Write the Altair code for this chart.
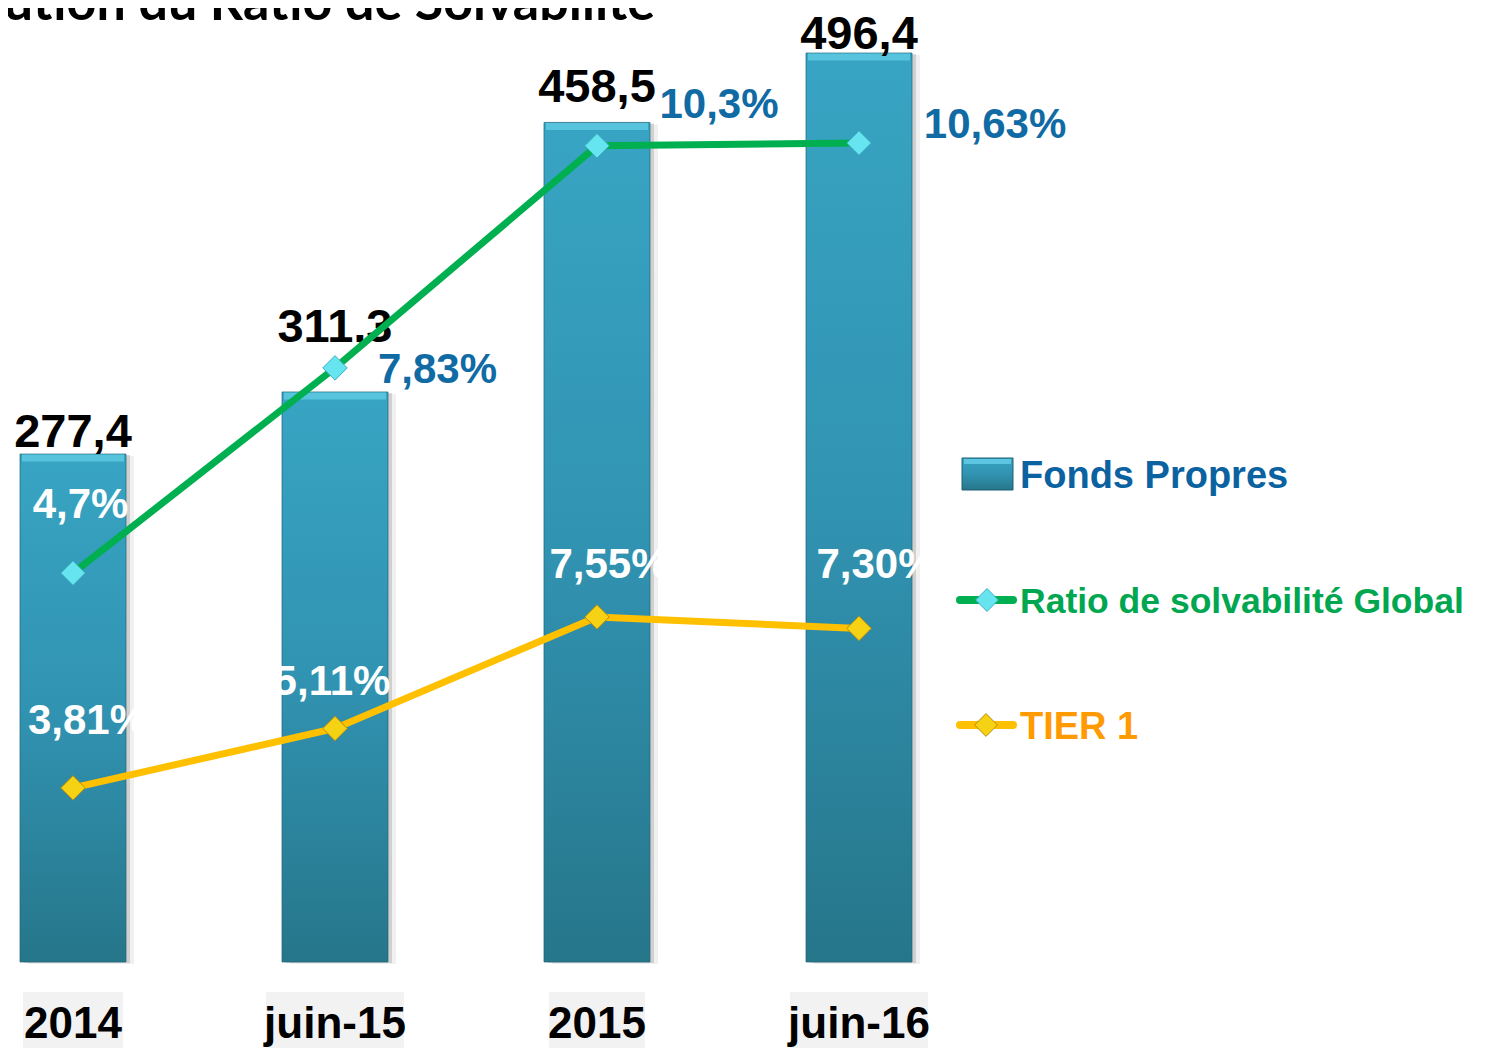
import altair as alt
import pandas as pd

# ---------------- data ----------------
categories = ["2014", "juin-15", "2015", "juin-16"]
fonds_propres = [277.4, 311.3, 458.5, 496.4]
fonds_labels = ["277,4", "311,3", "458,5", "496,4"]
# marker heights of the "Ratio de solvabilité Global" line, read on the % scale of the picture
ratio_global = [8.51, 13.0, 17.86, 17.92]
ratio_global_labels = ["4,7%", "7,83%", "10,3%", "10,63%"]
tier1 = [3.81, 5.11, 7.55, 7.30]
tier1_labels = ["3,81%", "5,11%", "7,55%", "7,30%"]
title_text = "Évolution du Ratio de Solvabilité"
legend_labels = ["Fonds Propres", "Ratio de solvabilité Global", "TIER 1"]

# ---------------- styling ----------------
BLUE_TXT = "#106aa4"
g_colors = ["white", BLUE_TXT, BLUE_TXT, BLUE_TXT]
g_dx = [7.5, 102.5, 122, 136]
g_dy = [-55, 15, -28, -5]
t_dx = [14.5, -3, 12, 17]
t_dy = [-54, -33, -39, -50]
b_dy = [-7, -50, -20, -4]
label_box_w = [100, 138, 96, 138]

df = pd.DataFrame({
    "cat": categories,
    "fp": fonds_propres,
    "fp_lbl": fonds_labels,
    "g": ratio_global,
    "g_lbl": ratio_global_labels,
    "t": tier1,
    "t_lbl": tier1_labels,
    "box_w": label_box_w,
})
one = pd.DataFrame({"k": [0]})

W, H = 1472, 1040
ZERO = 954  # pixel of value 0

xscale = alt.Scale(domain=categories, range=[-66, 982], paddingInner=0.5954, paddingOuter=0.2977)
xenc = alt.X("cat:N", sort=categories, title=None, scale=xscale, axis=None)
xaxis = alt.X("cat:N", sort=categories, title=None, scale=xscale,
              axis=alt.Axis(labels=False, domain=False, ticks=True, tickBand="extent",
                            tickColor="#eeeeee", tickSize=13, grid=False, title=None,
                            orient="top", offset=-ZERO))

def ybar(f):
    return alt.Y(f, scale=alt.Scale(domain=[0, 521], range=[ZERO, 0], nice=False, zero=True), axis=None)

def ypct(f):
    return alt.Y(f, scale=alt.Scale(domain=[0, 20.875], range=[ZERO, 0], nice=False, zero=True), axis=None)

bar_grad = alt.Gradient(
    gradient="linear",
    stops=[alt.GradientStop(color="#38a4c3", offset=0),
           alt.GradientStop(color="#3193b2", offset=0.5),
           alt.GradientStop(color="#26768a", offset=1)],
    x1=0, x2=0, y1=0, y2=1)

base = alt.Chart(df)

shadow2 = base.mark_bar(color="#808080", opacity=0.12, xOffset=8, yOffset=2).encode(x=xenc, y=ybar("fp:Q"))
shadow1 = base.mark_bar(color="#707070", opacity=0.25, xOffset=4, yOffset=1).encode(x=xenc, y=ybar("fp:Q"))
bars = base.mark_bar(color=bar_grad, stroke="#1f6478", strokeWidth=1, strokeOpacity=0.7).encode(
    x=xenc, y=ybar("fp:Q"))
bevel = base.mark_tick(color="#5cc6e0", thickness=7, size=102, yOffset=4, opacity=0.9).encode(
    x=xenc, y=ybar("fp:Q"))

layers = [shadow2, shadow1, bars, bevel]

# value labels above the bars
for i in range(len(categories)):
    layers.append(
        alt.Chart(df.iloc[[i]]).mark_text(
            font="Liberation Sans", fontWeight="bold", fontSize=47, color="black",
            baseline="alphabetic", align="center", dy=b_dy[i]).encode(
            x=xenc, y=ybar("fp:Q"), text="fp_lbl:N"))

line_g = base.mark_line(color="#00b050", strokeWidth=7).encode(x=xenc, y=ypct("g:Q"))
line_t = base.mark_line(color="#ffc000", strokeWidth=7).encode(x=xenc, y=ypct("t:Q"))
pt_g = base.mark_point(shape="diamond", filled=True, size=600, fill="#66e4ef",
                       stroke="#3aaebe", strokeWidth=1, opacity=1).encode(x=xenc, y=ypct("g:Q"))
pt_t = base.mark_point(shape="diamond", filled=True, size=600, fill="#f6d214",
                       stroke="#b98a08", strokeWidth=1, opacity=1).encode(x=xenc, y=ypct("t:Q"))
layers += [line_g, line_t, pt_g, pt_t]

for i in range(len(categories)):
    layers.append(
        alt.Chart(df.iloc[[i]]).mark_text(
            font="Liberation Sans", fontWeight="bold", fontSize=42, color=g_colors[i],
            baseline="alphabetic", align="center", dx=g_dx[i], dy=g_dy[i]).encode(
            x=xenc, y=ypct("g:Q"), text="g_lbl:N"))
    layers.append(
        alt.Chart(df.iloc[[i]]).mark_text(
            font="Liberation Sans", fontWeight="bold", fontSize=42, color="white",
            baseline="alphabetic", align="center", dx=t_dx[i], dy=t_dy[i]).encode(
            x=xenc, y=ypct("t:Q"), text="t_lbl:N"))

# category labels with their light grey boxes
boxes = base.mark_bar(color="#f2f2f2").encode(
    x=xaxis, y=alt.value(984), y2=alt.value(1045), size=alt.Size("box_w:Q", scale=None))
cat_labels = base.mark_text(font="Liberation Sans", fontWeight="bold", fontSize=44, color="black",
                            baseline="alphabetic", align="center").encode(
    x=xenc, y=alt.value(1030), text="cat:N")
layers += [boxes, cat_labels]

title = alt.Chart(pd.DataFrame({"t": [title_text]})).mark_text(
    font="Lato", fontWeight="bold", fontSize=52, color="black",
    align="right", baseline="alphabetic").encode(
    x=alt.value(647), y=alt.value(12), text="t:N")
layers.append(title)

# custom legend
LEG_FONT = "Liberation Sans"
leg_swatch = alt.Chart(one).mark_rect(color=bar_grad, stroke="#1e5f73", strokeWidth=1).encode(
    x=alt.value(954), x2=alt.value(1005), y=alt.value(450), y2=alt.value(482))
leg_swatch_top = alt.Chart(one).mark_rect(color="#5cc6e0").encode(
    x=alt.value(956), x2=alt.value(1003), y=alt.value(451), y2=alt.value(456))
leg_txt1 = alt.Chart(pd.DataFrame({"t": [legend_labels[0]]})).mark_text(
    font=LEG_FONT, fontWeight="bold", fontSize=38, color="#0b62a0", align="left", baseline="alphabetic").encode(
    x=alt.value(1012), y=alt.value(480), text="t:N")
leg_line2 = alt.Chart(one).mark_rule(color="#00b050", strokeWidth=8, strokeCap="round").encode(
    x=alt.value(952), x2=alt.value(1005), y=alt.value(592))
leg_pt2 = alt.Chart(one).mark_point(shape="diamond", filled=True, size=520, fill="#66e4ef",
                                    stroke="#3aaebe", strokeWidth=1, opacity=1).encode(
    x=alt.value(979), y=alt.value(592))
leg_txt2 = alt.Chart(pd.DataFrame({"t": [legend_labels[1]]})).mark_text(
    font=LEG_FONT, fontWeight="bold", fontSize=35.5, color="#00a650", align="left", baseline="alphabetic").encode(
    x=alt.value(1012), y=alt.value(605), text="t:N")
leg_line3 = alt.Chart(one).mark_rule(color="#ffc000", strokeWidth=8, strokeCap="round").encode(
    x=alt.value(952), x2=alt.value(1005), y=alt.value(717))
leg_pt3 = alt.Chart(one).mark_point(shape="diamond", filled=True, size=520, fill="#f6d214",
                                    stroke="#b98a08", strokeWidth=1, opacity=1).encode(
    x=alt.value(978), y=alt.value(717))
leg_txt3 = alt.Chart(pd.DataFrame({"t": [legend_labels[2]]})).mark_text(
    font=LEG_FONT, fontWeight="bold", fontSize=38, color="#ff9a00", align="left", baseline="alphabetic").encode(
    x=alt.value(1012), y=alt.value(731), text="t:N")
layers += [leg_swatch, leg_swatch_top, leg_txt1, leg_line2, leg_pt2, leg_txt2, leg_line3, leg_pt3, leg_txt3]

chart = alt.layer(*layers).resolve_scale(y="independent").properties(
    width=W, height=H, padding=0, background="white",
    autosize=alt.AutoSizeParams(type="none"),
).configure_view(stroke=None)

chart.save("out.html", embed_options={"renderer": "svg", "actions": False})
